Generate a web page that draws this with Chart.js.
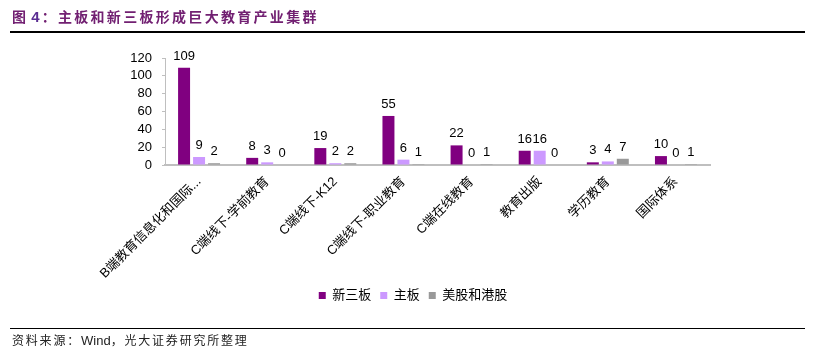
<!DOCTYPE html>
<html>
<head>
<meta charset="utf-8">
<script src="https://cdn.jsdelivr.net/npm/chart.js@4/dist/chart.umd.min.js"></script>
<style>
  html, body { margin: 0; padding: 0; background: #fff; }
  #wrap { position: relative; width: 815px; height: 352px; overflow: hidden; }
  #c { position: absolute; left: 0; top: 0; }
  #title { position: absolute; left: 12px; top: 6px; font-family: "Noto Sans CJK SC", sans-serif; font-weight: 700; font-size: 14px; letter-spacing: 2.3px; color: #722072; white-space: nowrap; line-height: 20px; }
  #title .num { font-family: "Liberation Sans", Arial, sans-serif; color: #5a2d92; letter-spacing: 0; font-size: 15px; margin: 0 2px 0 3px; }
  #topline { position: absolute; left: 10px; width: 795px; top: 31px; height: 2px; background: #000; }
  #botline { position: absolute; left: 10px; width: 795px; top: 328px; height: 1px; background: #000; }
  #source { position: absolute; left: 12px; top: 331px; font-family: "Noto Sans CJK SC", sans-serif; font-size: 12px; letter-spacing: 1.8px; color: #222; white-space: nowrap; line-height: 18px; }
  #source .lat { font-family: "Liberation Sans", Arial, sans-serif; letter-spacing: 0; font-size: 13px; }
</style>
</head>
<body>
<div id="wrap">
  <canvas id="c" width="815" height="352"></canvas>
  <div id="title">图<span class="num">4</span>：主板和新三板形成巨大教育产业集群</div>
  <div id="topline"></div>
  <div id="botline"></div>
  <div id="source">资料来源：<span class="lat">Wind</span>，光大证券研究所整理</div>
</div>
<script>
const categories = ['B端教育信息化和国际...', 'C端线下-学前教育', 'C端线下-K12', 'C端线下-职业教育', 'C端在线教育', '教育出版', '学历教育', '国际体系'];
const seriesNames = ['新三板', '主板', '美股和港股'];
const neeqValues = [109, 8, 19, 55, 22, 16, 3, 10];
const mainBoardValues = [9, 3, 2, 6, 0, 16, 4, 0];
const usHkValues = [2, 0, 2, 1, 1, 0, 7, 1];
const yTicks = [0, 20, 40, 60, 80, 100, 120];

const FONT = '"Liberation Sans", "Noto Sans CJK SC", Arial, sans-serif';

const valueLabels = {
  id: 'valueLabels',
  afterDatasetsDraw(chart) {
    const ctx = chart.ctx;
    ctx.save();
    ctx.font = '13px ' + FONT;
    ctx.fillStyle = '#000';
    ctx.textAlign = 'center';
    ctx.textBaseline = 'alphabetic';
    chart.data.datasets.forEach((ds, i) => {
      const meta = chart.getDatasetMeta(i);
      meta.data.forEach((bar, j) => {
        ctx.fillText(String(ds.data[j]), bar.x, bar.y - 8);
      });
    });
    ctx.restore();
  }
};

new Chart(document.getElementById('c'), {
  type: 'bar',
  data: {
    labels: categories,
    datasets: [
      { label: seriesNames[0], data: neeqValues, backgroundColor: '#800080' },
      { label: seriesNames[1], data: mainBoardValues, backgroundColor: '#cc99ff' },
      { label: seriesNames[2], data: usHkValues, backgroundColor: '#999999' }
    ]
  },
  options: {
    responsive: false,
    animation: false,
    datasets: { bar: { categoryPercentage: 0.66, barPercentage: 0.8 } },
    layout: { padding: { left: 116, right: 105, top: 58, bottom: 40 } },
    plugins: {
      tooltip: { enabled: false },
      legend: {
        position: 'bottom',
        labels: { boxWidth: 7, boxHeight: 7, padding: 9, color: '#000', font: { size: 13, family: FONT } }
      }
    },
    scales: {
      x: {
        grid: { display: false },
        border: { color: '#bfbfbf', width: 2 },
        ticks: { minRotation: 45, maxRotation: 45, autoSkip: false, padding: 1, color: '#000', font: { size: 13, family: FONT } },
        afterFit(s) { s.height = 115; }
      },
      y: {
        min: 0, max: 120,
        afterBuildTicks(s) { s.ticks = yTicks.map(v => ({ value: v })); },
        ticks: { autoSkip: false, color: '#000', padding: 10, font: { size: 13, family: FONT } },
        grid: { drawOnChartArea: false, drawTicks: true, tickLength: 3, color: '#bfbfbf' },
        border: { color: '#bfbfbf', width: 1 },
        afterFit(s) { s.width = 49; }
      }
    }
  },
  plugins: [valueLabels]
});
</script>
</body>
</html>
